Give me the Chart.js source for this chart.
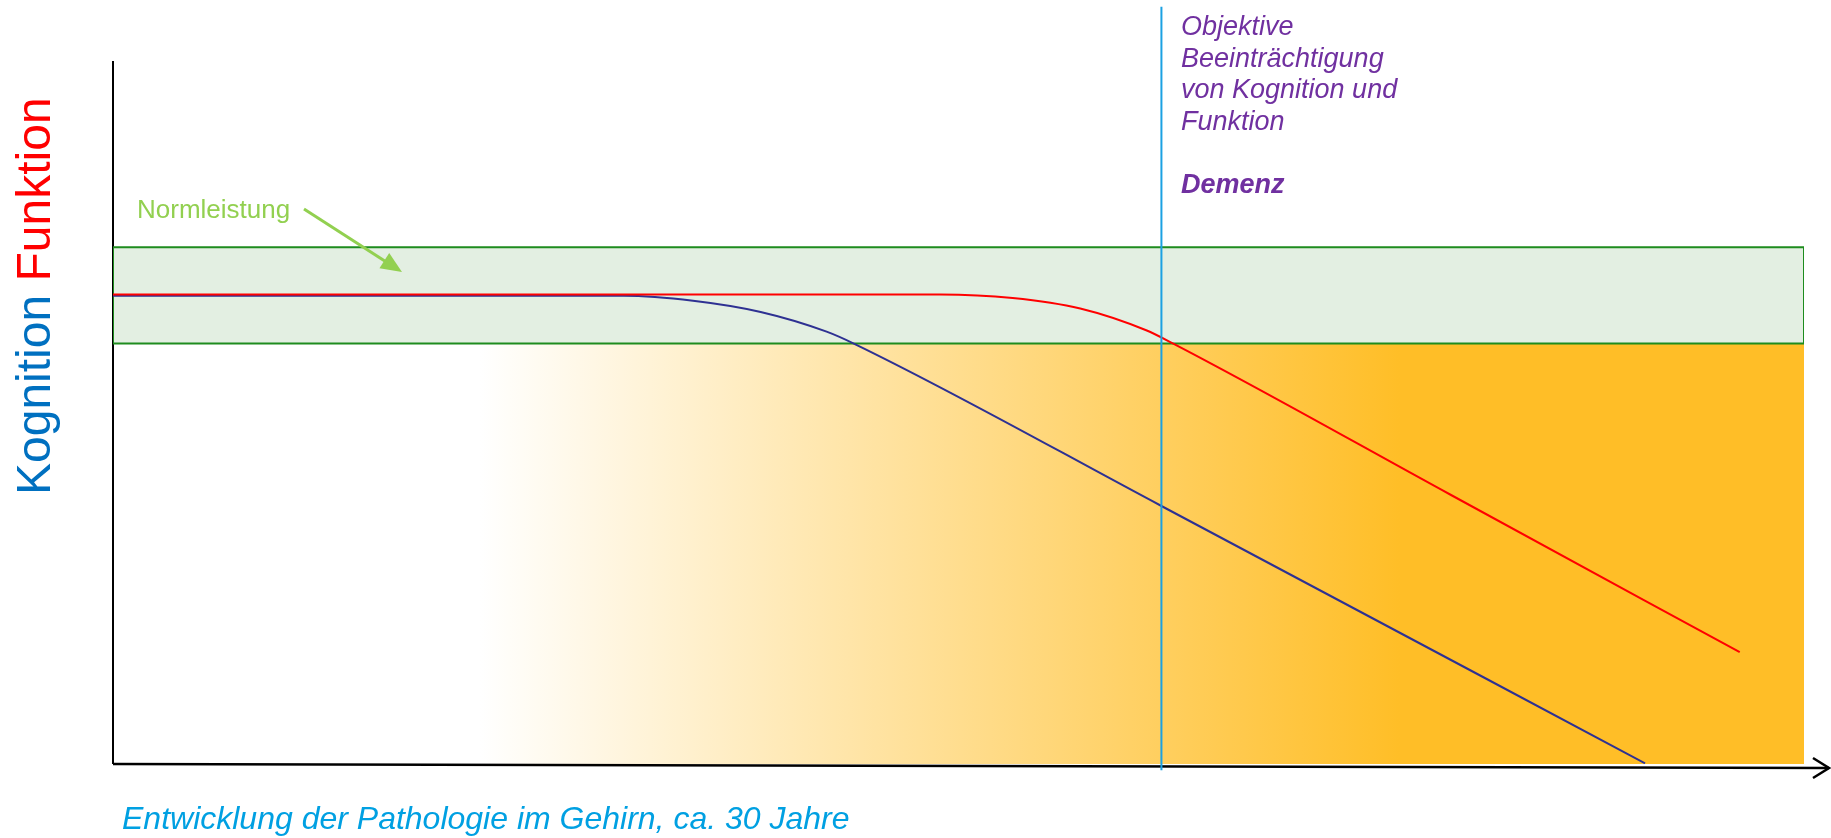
<!DOCTYPE html>
<html lang="de">
<head>
<meta charset="utf-8">
<title>Kognition und Funktion</title>
<script src="https://cdn.jsdelivr.net/npm/chart.js@4.4.1/dist/chart.umd.min.js"></script>
<style>
  html, body { margin: 0; padding: 0; background: #ffffff; }
  #wrap { width: 1831px; height: 838px; position: relative; }
  canvas { display: block; }
</style>
</head>
<body>
<div id="wrap"><canvas id="chart" width="1831" height="838"></canvas></div>
<script>
// Progress along the pathology axis (0 = start, 100 = end of the drawn range)
// and the level of cognition / function on the vertical axis (0..100).
const normBand = [59.8, 73.5];            // Normleistung: lower and upper bound

const funktionX = [0, 48.9, 53.2, 57.2, 61.1, 62.7, 79.1, 96.2];
const funktionY = [66.8, 66.8, 66.3, 64.8, 61.7, 59.8, 38.3, 15.9];

const kognitionX = [0, 30.2, 34.3, 38.3, 42.2, 43.9, 62.0, 90.6];
const kognitionY = [66.6, 66.6, 65.9, 64.3, 61.5, 59.7, 36.7, 0.1];

const demenzX = 62.0;                     // onset of dementia

const labels = {
  yKognition: 'Kognition ',
  yFunktion: 'Funktion',
  norm: 'Normleistung',
  demenzLines: ['Objektive', 'Beeinträchtigung', 'von Kognition und', 'Funktion'],
  demenz: 'Demenz',
  xTitle: 'Entwicklung der Pathologie im Gehirn, ca. 30 Jahre'
};

const FONT = '"Liberation Sans", Arial, Helvetica, sans-serif';

function toPoints(xs, ys) {
  return xs.map((x, i) => ({ x: x, y: ys[i] }));
}

// Horizontal white-to-amber gradient for the pathology area
function pathologyFill(context) {
  const chart = context.chart;
  const area = chart.chartArea;
  if (!area) return '#FFBE27';
  const xs = chart.scales.x;
  const g = chart.ctx.createLinearGradient(xs.getPixelForValue(21.7), 0, xs.getPixelForValue(76.1), 0);
  g.addColorStop(0, '#FFFFFF');
  g.addColorStop(1, '#FFBE27');
  return g;
}

// Axes with arrow, drawn right after the pathology area so the band sits on top
const axesPlugin = {
  id: 'axesPlugin',
  afterDatasetDraw(chart, args) {
    if (args.index !== 0) return;
    const ctx = chart.ctx;
    const a = chart.chartArea;
    ctx.save();
    ctx.strokeStyle = '#000000';
    ctx.lineWidth = 2;
    ctx.lineCap = 'butt';
    // y axis
    ctx.beginPath();
    ctx.moveTo(a.left, a.top);
    ctx.lineTo(a.left, a.bottom);
    ctx.stroke();
    // x axis
    ctx.lineWidth = 2.5;
    ctx.beginPath();
    ctx.moveTo(a.left, a.bottom);
    ctx.lineTo(1829, a.bottom + 4);
    ctx.stroke();
    // arrow head
    ctx.lineWidth = 2.5;
    ctx.lineJoin = 'miter';
    ctx.beginPath();
    ctx.moveTo(1813, a.bottom - 6);
    ctx.lineTo(1829, a.bottom + 4);
    ctx.lineTo(1813, a.bottom + 14);
    ctx.stroke();
    ctx.restore();
  }
};

// Texts around the plot
const textPlugin = {
  id: 'textPlugin',
  afterDraw(chart) {
    const ctx = chart.ctx;
    ctx.save();
    ctx.textBaseline = 'alphabetic';
    ctx.textAlign = 'left';

    // vertical axis title in two colours
    ctx.save();
    ctx.translate(50, 495);
    ctx.rotate(-Math.PI / 2);
    ctx.font = '48px ' + FONT;
    ctx.fillStyle = '#0070C0';
    ctx.fillText(labels.yKognition, 0, 0);
    const w = ctx.measureText(labels.yKognition).width;
    ctx.fillStyle = '#FF0000';
    ctx.fillText(labels.yFunktion, w, 0);
    ctx.restore();

    // Normleistung label with arrow into the band
    ctx.font = '26px ' + FONT;
    ctx.fillStyle = '#92D050';
    ctx.fillText(labels.norm, 137, 218);
    const x0 = 304, y0 = 209, x1 = 402, y1 = 272;
    const ang = Math.atan2(y1 - y0, x1 - x0);
    const head = 21, half = 9;
    ctx.strokeStyle = '#92D050';
    ctx.lineWidth = 3;
    ctx.beginPath();
    ctx.moveTo(x0, y0);
    ctx.lineTo(x1 - Math.cos(ang) * head * 0.8, y1 - Math.sin(ang) * head * 0.8);
    ctx.stroke();
    ctx.beginPath();
    ctx.moveTo(x1, y1);
    ctx.lineTo(x1 - Math.cos(ang) * head + Math.sin(ang) * half, y1 - Math.sin(ang) * head - Math.cos(ang) * half);
    ctx.lineTo(x1 - Math.cos(ang) * head - Math.sin(ang) * half, y1 - Math.sin(ang) * head + Math.cos(ang) * half);
    ctx.closePath();
    ctx.fill();

    // dementia annotation
    ctx.fillStyle = '#7030A0';
    ctx.font = 'italic 27px ' + FONT;
    const tx = 1181;
    labels.demenzLines.forEach((line, i) => {
      ctx.fillText(line, tx, 35 + i * 31.6);
    });
    ctx.font = 'italic bold 27px ' + FONT;
    ctx.fillText(labels.demenz, tx, 35 + 5 * 31.6);

    // horizontal axis title
    ctx.font = 'italic 32px ' + FONT;
    ctx.fillStyle = '#00A0E2';
    ctx.fillText(labels.xTitle, 122, 829);

    ctx.restore();
  }
};

const data = {
  datasets: [
    {
      // pathology area below the norm band
      label: 'Pathologie',
      data: [{ x: 0, y: normBand[0] }, { x: 100, y: normBand[0] }],
      borderWidth: 0,
      borderColor: 'rgba(0,0,0,0)',
      backgroundColor: pathologyFill,
      fill: 'start',
      pointRadius: 0,
      order: 5
    },
    {
      // Normleistung band
      label: labels.norm,
      data: [
        { x: 0, y: normBand[1] }, { x: 100, y: normBand[1] },
        { x: 100, y: normBand[0] }, { x: 0, y: normBand[0] },
        { x: 0, y: normBand[1] }
      ],
      borderColor: '#1E8C1E',
      borderWidth: 2,
      backgroundColor: '#E3EFE2',
      fill: 'shape',
      tension: 0,
      pointRadius: 0,
      borderJoinStyle: 'miter',
      order: 4
    },
    {
      label: 'Funktion',
      data: toPoints(funktionX, funktionY),
      borderColor: '#FF0000',
      borderWidth: 2,
      fill: false,
      cubicInterpolationMode: 'monotone',
      pointRadius: 0,
      order: 2
    },
    {
      label: 'Kognition',
      data: toPoints(kognitionX, kognitionY),
      borderColor: '#2E3192',
      borderWidth: 2,
      fill: false,
      cubicInterpolationMode: 'monotone',
      pointRadius: 0,
      order: 3
    },
    {
      label: 'Demenz',
      data: [{ x: demenzX, y: -0.9 }, { x: demenzX, y: 107.7 }],
      borderColor: '#1BA1E2',
      borderWidth: 2,
      fill: false,
      pointRadius: 0,
      clip: false,
      order: 1
    }
  ]
};

new Chart(document.getElementById('chart'), {
  type: 'line',
  data: data,
  options: {
    responsive: false,
    devicePixelRatio: 1,
    animation: false,
    layout: { padding: { left: 113, top: 61, right: 27, bottom: 74 } },
    scales: {
      x: { type: 'linear', min: 0, max: 100, display: false },
      y: { type: 'linear', min: 0, max: 100, display: false }
    },
    plugins: {
      legend: { display: false },
      tooltip: { enabled: false },
      title: { display: false }
    }
  },
  plugins: [axesPlugin, textPlugin]
});
</script>
</body>
</html>
